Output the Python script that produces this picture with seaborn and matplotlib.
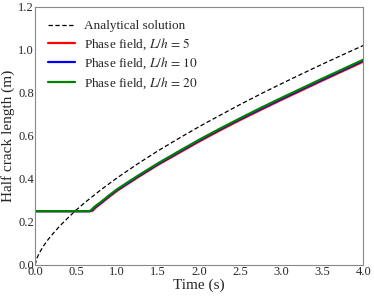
import numpy as np
import pandas as pd
import seaborn as sns
import matplotlib.pyplot as plt

# analytical solution
t_exact = [0.0, 0.02, 0.05, 0.1, 0.15, 0.2, 0.3, 0.4, 0.5, 0.6, 0.8, 1.0, 1.25, 1.5,
           1.75, 2.0, 2.25, 2.5, 2.75, 3.0, 3.25, 3.5, 3.75, 4.0]
a_exact = [0.0, 0.030, 0.055, 0.087, 0.114, 0.138, 0.181, 0.219, 0.255, 0.288, 0.349,
           0.405, 0.470, 0.531, 0.588, 0.643, 0.695, 0.746, 0.795, 0.842, 0.888,
           0.933, 0.977, 1.020]

# phase field results
t_pf = [0.0, 0.3, 0.6, 0.66, 0.68, 0.70, 0.72, 0.75, 0.8, 0.9, 1.0, 1.25, 1.5, 1.75,
        2.0, 2.25, 2.5, 2.75, 3.0, 3.25, 3.5, 3.75, 4.0]
a_lh5 = [0.25, 0.25, 0.25, 0.25, 0.25, 0.252, 0.260, 0.270, 0.285, 0.316, 0.345,
         0.407, 0.466, 0.520, 0.574, 0.625, 0.674, 0.721, 0.767, 0.812, 0.857,
         0.901, 0.945]
a_lh10 = [0.25, 0.25, 0.25, 0.25, 0.252, 0.258, 0.266, 0.275, 0.289, 0.320, 0.349,
          0.411, 0.470, 0.525, 0.579, 0.630, 0.679, 0.726, 0.772, 0.817, 0.862,
          0.906, 0.950]
a_lh20 = [0.25, 0.25, 0.25, 0.25, 0.254, 0.261, 0.269, 0.278, 0.292, 0.323, 0.352,
          0.414, 0.473, 0.528, 0.582, 0.633, 0.682, 0.730, 0.776, 0.821, 0.866,
          0.910, 0.954]

sns.set_style("white")
plt.rcParams["font.family"] = ["Liberation Serif", "DejaVu Serif"]
plt.rcParams["mathtext.fontset"] = "stix"

fig = plt.figure(figsize=(3.74, 2.98), dpi=100)
ax = fig.add_axes([0.094, 0.111, 0.877, 0.866])

sns.lineplot(x=t_exact, y=a_exact, ax=ax, color="black", linestyle=(0, (3.5, 2)), lw=0.9,
             label="Analytical solution")
sns.lineplot(x=t_pf, y=a_lh5, ax=ax, color="red", lw=1.6, label=r"Phase field, $L/h\,=\,5$")
sns.lineplot(x=t_pf, y=a_lh10, ax=ax, color="blue", lw=1.6, label=r"Phase field, $L/h\,=\,10$")
sns.lineplot(x=t_pf, y=a_lh20, ax=ax, color="green", lw=1.6, label=r"Phase field, $L/h\,=\,20$")

ax.set_xlim(0, 4)
ax.set_ylim(0, 1.2)
ax.set_xticks(np.arange(0, 4.01, 0.5))
ax.set_yticks(np.arange(0, 1.21, 0.2))
ax.tick_params(length=0, labelsize=9, pad=1)
ax.set_xlabel("Time (s)", fontsize=11, labelpad=0)
ax.set_ylabel("Half crack length (m)", fontsize=11, labelpad=2)
for s in ax.spines.values():
    s.set_color("#888888")
    s.set_linewidth(0.8)

ax.legend(loc="upper left", frameon=False, fontsize=9.5, handlelength=2.0,
          borderaxespad=0.6, labelspacing=0.3, handletextpad=0.7)

fig.savefig("out.png", dpi=100)
